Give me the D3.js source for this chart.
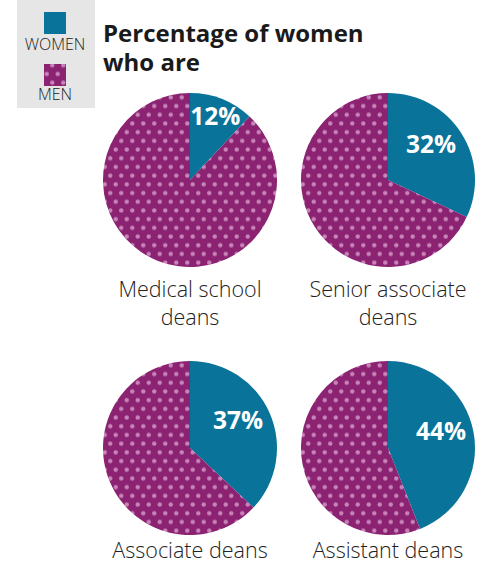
<!DOCTYPE html>
<html>
<head>
<meta charset="utf-8">
<script src="https://cdn.jsdelivr.net/npm/d3@7"></script>
<style>
  body { margin: 0; background: #fff; }
  text { font-family: "Open Sans", "Noto Sans", sans-serif; }
</style>
</head>
<body>
<svg id="chart" width="484" height="565"></svg>
<script>
// data
const categories = [["Medical school", "deans"], ["Senior associate", "deans"], ["Associate deans"], ["Assistant deans"]];
const womenPct = [12, 32, 37, 44];
const legendLabels = ["WOMEN", "MEN"];
const titleLines = ["Percentage of women", "who are"];

const teal = "#0a7399", purple = "#8b2372", dot = "#c884b8";

const svg = d3.select("#chart");

// dotted pattern for men
const pw = 11, ph = 17.4;
const pat = svg.append("defs").append("pattern")
  .attr("id", "dots").attr("patternUnits", "userSpaceOnUse")
  .attr("width", pw).attr("height", ph);
pat.append("rect").attr("width", pw).attr("height", ph).attr("fill", purple);
pat.append("circle").attr("cx", pw / 4).attr("cy", ph / 4).attr("r", 2.2).attr("fill", dot);
pat.append("circle").attr("cx", pw * 3 / 4).attr("cy", ph * 3 / 4).attr("r", 2.2).attr("fill", dot);

// legend
const lg = svg.append("g");
lg.append("rect").attr("x", 17).attr("y", 0).attr("width", 78).attr("height", 108).attr("fill", "#e6e6e6");
lg.append("rect").attr("x", 44).attr("y", 12).attr("width", 22).attr("height", 22).attr("fill", teal);
lg.append("rect").attr("x", 44).attr("y", 64).attr("width", 22).attr("height", 22).attr("fill", "url(#dots)");
lg.selectAll("text.leg").data(legendLabels).join("text")
  .attr("class", "leg")
  .attr("x", 55).attr("y", (d, i) => 50 + i * 50)
  .attr("text-anchor", "middle")
  .attr("font-size", 16).attr("font-weight", 300).attr("fill", "#222")
  .text(d => d);

// title
svg.selectAll("text.title").data(titleLines).join("text")
  .attr("class", "title")
  .attr("x", 103).attr("y", (d, i) => 42 + i * 29)
  .attr("font-size", 24).attr("font-weight", "bold").attr("fill", "#1a1a1a")
  .text(d => d);

// grid of pies
const r = 87;
const col = d3.scalePoint().domain([0, 1]).range([190, 388]);
const row = d3.scalePoint().domain([0, 1]).range([180, 448]);
const labelGap = [30, 23];

const pie = d3.pie().sort(null).value(d => d.v);
const arc = d3.arc().innerRadius(0).outerRadius(r);

womenPct.forEach((w, i) => {
  const ri = Math.floor(i / 2);
  const cx = col(i % 2), cy = row(ri);
  const g = svg.append("g").attr("transform", `translate(${cx},${cy})`);
  const slices = pie([{k: "women", v: w}, {k: "men", v: 100 - w}]);

  g.selectAll("path").data(slices).join("path")
    .attr("d", arc)
    .attr("fill", d => d.data.k === "women" ? teal : "url(#dots)");

  // percentage label inside the women slice
  const s = slices[0];
  const mid = (s.startAngle + s.endAngle) / 2;
  const lr = w < 20 ? r * 0.79 : r * 0.64;
  const ang = w < 20 ? mid : mid - 0.12;
  g.append("text")
    .attr("x", Math.sin(ang) * lr)
    .attr("y", -Math.cos(ang) * lr)
    .attr("dy", "0.35em")
    .attr("text-anchor", "middle")
    .attr("font-size", 24.5).attr("font-weight", "bold").attr("fill", "#fff")
    .text(w + "%");

  // category label
  svg.append("g").selectAll("text").data(categories[i]).join("text")
    .attr("x", cx)
    .attr("y", (d, j) => cy + r + labelGap[ri] + j * 28)
    .attr("text-anchor", "middle")
    .attr("font-size", 21.5).attr("font-weight", 300).attr("fill", "#222")
    .text(d => d);
});
</script>
</body>
</html>
